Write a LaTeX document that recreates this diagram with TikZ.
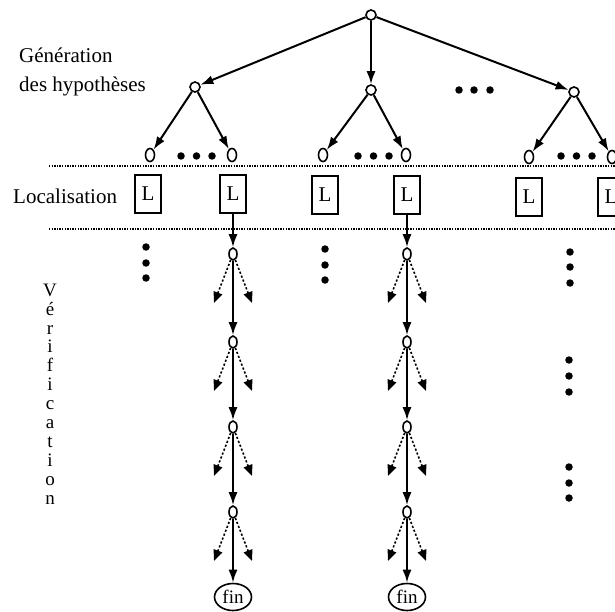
\documentclass[tikz,border=0pt]{standalone}
\usepackage{fontspec}
\setmainfont{Liberation Serif}
\usetikzlibrary{arrows.meta,shapes.geometric}
\begin{document}
\begin{tikzpicture}[x=1pt,y=-1pt,
 nd/.style={circle,draw,line width=1.6pt,inner sep=0pt,minimum size=10pt},
 lf/.style={ellipse,draw,line width=1.6pt,inner sep=0pt,minimum width=9pt,minimum height=13pt},
 cn/.style={ellipse,draw,line width=1.6pt,inner sep=0pt,minimum width=8pt,minimum height=12pt},
 arr/.style={-{Latex[length=13pt,width=9pt]},line width=2pt},
 lbox/.style={draw,line width=1.8pt,minimum width=26pt,minimum height=38pt,inner sep=0pt,font=\fontsize{21}{22}\selectfont},
 sep/.style={line width=1.4pt,dash pattern=on 1.4pt off 1.2pt},
 dot/.style={circle,fill,inner sep=0pt,minimum size=7.5pt},
 side/.style={dash pattern=on 2.2pt off 2pt,line width=1.6pt,-{Triangle[length=11pt,width=9pt]}},
 lab/.style={font=\fontsize{21}{24}\selectfont,inner sep=0pt}]
\useasboundingbox (0,0) rectangle (615,612);
% labels
\node[lab,anchor=west] (g1) at (19,55) {Génération};
\node[lab,anchor=west] (g2) at (19,86) {des hypothèses};
\node[lab,anchor=west] (loc) at (13,196) {Localisation};
\node[font=\fontsize{19}{18.9}\selectfont,align=center,inner sep=0pt] (ver) at (50,394)
 {V\\é\\r\\i\\f\\i\\c\\a\\t\\i\\o\\n};
% tree
\node[nd] (r) at (371,15) {};
\node[nd] (a) at (195,87) {};
\node[nd] (b) at (371,90) {};
\node[nd] (c) at (574,92) {};
\foreach \i/\x in {1/459,2/474,3/490} \node[dot] (td\i) at (\x,90) {};
\draw[arr] (r) -- (a);
\draw[arr] (r) -- (b);
\draw[arr] (r) -- (c);
\node[lf] (a1) at (150,155) {};
\node[lf] (a2) at (232,155) {};
\node[lf] (b1) at (323,155) {};
\node[lf] (b2) at (406,155) {};
\node[lf] (c1) at (529,157) {};
\node[lf] (c2) at (612,157) {};
\draw[arr] (a) -- (a1); \draw[arr] (a) -- (a2);
\draw[arr] (b) -- (b1); \draw[arr] (b) -- (b2);
\draw[arr] (c) -- (c1); \draw[arr] (c) -- (c2);
\foreach \g/\x in {a/181,b/358,c/561}{
  \foreach \k in {0,1,2} \node[dot] (\g d\k) at (\x+\k*15.5,156) {};
}
% separators
\coordinate (s1a) at (49,166); \coordinate (s1b) at (615,166);
\coordinate (s2a) at (49,229); \coordinate (s2b) at (615,229);
\draw[sep] (s1a) -- (s1b);
\draw[sep] (s2a) -- (s2b);
% localisation boxes
\node[lbox] (L1) at (148,194) {L};
\node[lbox] (L2) at (233,194) {L};
\node[lbox] (L3) at (325,195) {L};
\node[lbox] (L4) at (407,195) {L};
\node[lbox] (L5) at (529,197) {L};
\node[lbox] (L6) at (611,197) {L};
% chains
\foreach \c/\x/\b in {p/233/L2,q/407/L4}{
  \node[cn] (\c1) at (\x,254) {};
  \node[cn] (\c2) at (\x,342) {};
  \node[cn] (\c3) at (\x,427) {};
  \node[cn] (\c4) at (\x,512) {};
  \node[ellipse,draw,line width=1.6pt,inner sep=0pt,minimum width=37pt,minimum height=27pt,font=\fontsize{19}{20}\selectfont] (\c f) at (\x,597) {fin};
  \draw[arr] (\b) -- (\c1);
  \draw[arr] (\c1) -- (\c2);
  \draw[arr] (\c2) -- (\c3);
  \draw[arr] (\c3) -- (\c4);
  \draw[arr] (\c4) -- (\c f);
}
\foreach \c/\x in {p/233,q/407}{
  \foreach \n/\y in {1/254,2/342,3/427,4/512}{
    \coordinate (\c\n l) at (\x-19,\y+49);
    \coordinate (\c\n r) at (\x+19,\y+49);
    \draw[side] (\c\n) -- (\c\n l);
    \draw[side] (\c\n) -- (\c\n r);
  }
}
% vertical dots
\foreach \k/\y in {0/247,1/263,2/278} \node[dot] (v1\k) at (146,\y) {};
\foreach \k/\y in {0/249,1/265,2/280} \node[dot] (v2\k) at (325,\y) {};
\foreach \k/\y in {0/252,1/267,2/283} \node[dot] (v3\k) at (570,\y) {};
\foreach \k/\y in {0/360,1/376,2/392} \node[dot] (v4\k) at (569,\y) {};
\foreach \k/\y in {0/467,1/483,2/498} \node[dot] (v5\k) at (569,\y) {};
\end{tikzpicture}
\end{document}
